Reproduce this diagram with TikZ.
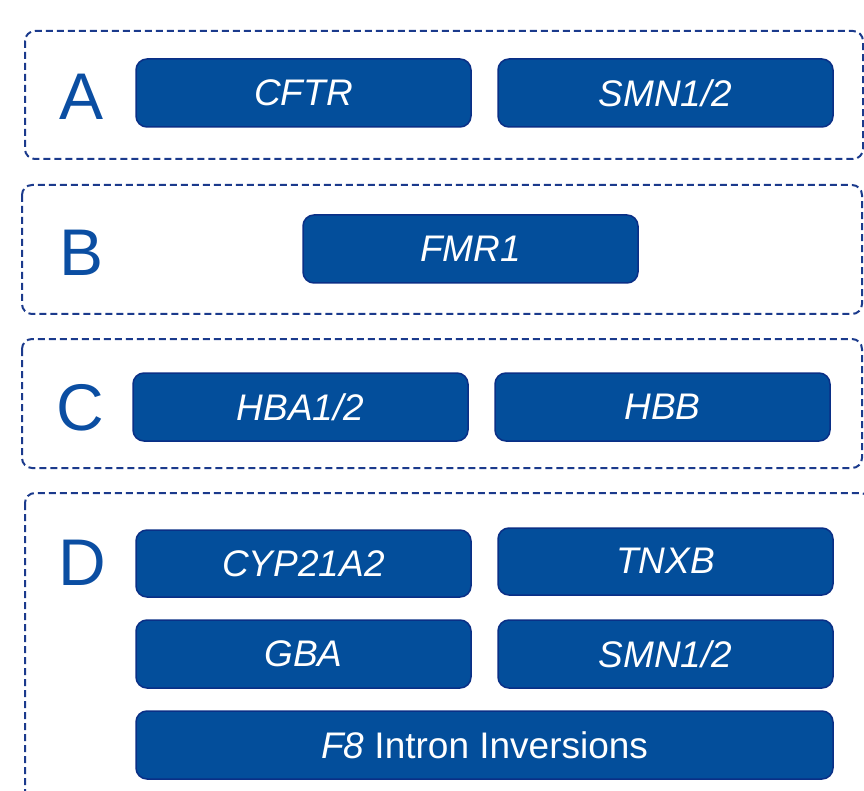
\documentclass[tikz,border=0pt]{standalone}
\usepackage{fontspec}
\setmainfont{Liberation Sans}
\definecolor{boxfill}{HTML}{034E9B}
\definecolor{boxline}{HTML}{0A2F86}
\definecolor{dashline}{HTML}{1B3A8C}
\definecolor{lettercol}{HTML}{0B4EA2}
\begin{document}
\begin{tikzpicture}[x=1pt,y=-1pt,
  group/.style={draw=dashline,line width=2pt,dash pattern=on 7pt off 4pt,rounded corners=10pt},
  gene/.style={draw=boxline,line width=1.5pt,fill=boxfill,rounded corners=11pt},
  genetext/.style={text=white,font=\fontsize{37}{40}\selectfont\itshape},
  letter/.style={text=lettercol,font=\fontsize{66}{70}\selectfont}]
\useasboundingbox (0,0) rectangle (864,791);
\begin{scope}
\clip (0,0) rectangle (864,791);
% groups
\draw[group] (25,31) rectangle (863,159);
\draw[group] (22,185) rectangle (862,314);
\draw[group] (22,339) rectangle (862,468);
\draw[group] (25,493) rectangle (870,830);
\end{scope}
% letters
\node[letter] (la) at (82,97) {A};
\node[letter] (lb) at (82,253) {B};
\node[letter] (lc) at (80,408) {C};
\node[letter] (ld) at (82,563) {D};
% A
\draw[gene] (136,59) rectangle (471,127);
\node[genetext] (cftr) at (303.5,93) {CFTR};
\draw[gene] (498,59) rectangle (833,127);
\node[genetext] (smnA) at (665.5,93) {SMN1/2};
% B
\draw[gene] (303,215) rectangle (638,283);
\node[genetext] (fmr) at (470.5,249) {FMR1};
% C
\draw[gene] (133,373) rectangle (468,441);
\node[genetext] (hba) at (300.5,407) {HBA1/2};
\draw[gene] (495,373) rectangle (830,441);
\node[genetext] (hbb) at (662.5,407) {HBB};
% D
\draw[gene] (136,530) rectangle (471,597);
\node[genetext] (cyp) at (303.5,564) {CYP21A2};
\draw[gene] (498,528) rectangle (833,595);
\node[genetext] (tnxb) at (665.5,561) {TNXB};
\draw[gene] (136,620) rectangle (471,688);
\node[genetext] (gba) at (303.5,654) {GBA};
\draw[gene] (498,620) rectangle (833,688);
\node[genetext] (smnD) at (665.5,654) {SMN1/2};
\draw[gene] (136,711) rectangle (833,779);
\node[text=white,font=\fontsize{37}{40}\selectfont] (f8) at (484.5,745) {\textit{F8} Intron Inversions};
\end{tikzpicture}
\end{document}
